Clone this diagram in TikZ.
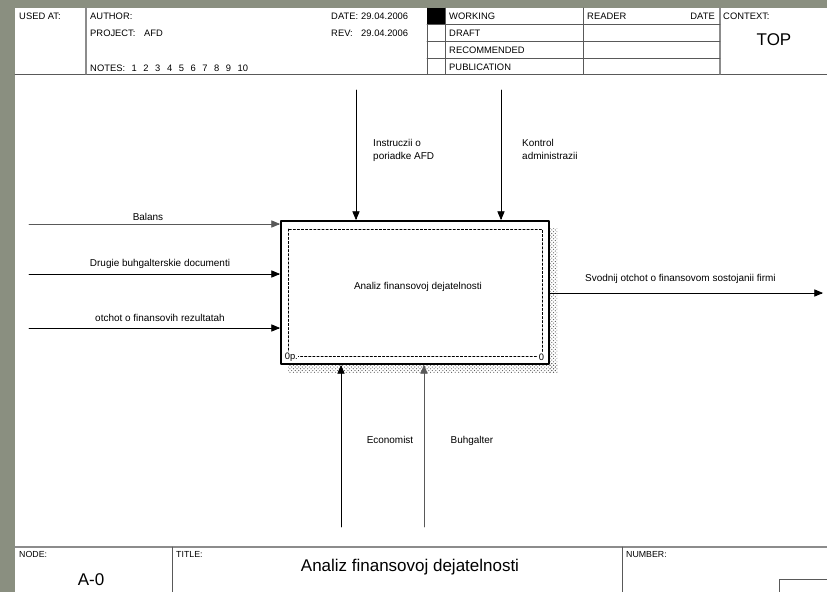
\documentclass[tikz,border=0pt]{standalone}
\usepackage{fontspec}
\setmainfont{Liberation Sans}
\usepackage{tikz}
\usetikzlibrary{calc}
\usetikzlibrary{arrows}
\usetikzlibrary{patterns}
\definecolor{ttttzz}{rgb}{0.54,0.56,0.5}
\definecolor{sqsqsq}{rgb}{0.55,0.55,0.55}
\definecolor{wvwvwv}{rgb}{0.35,0.35,0.35}
\tikzstyle{every node}=[font=\fontsize{8.5}{11}\selectfont,inner sep=0pt]
\tikzstyle{frm}=[font=\fontsize{8}{9}\selectfont,anchor=base west]
\tikzstyle{frmsm}=[font=\fontsize{7.5}{9}\selectfont,anchor=base west]
\tikzstyle{big}=[font=\fontsize{14.5}{16}\selectfont,anchor=base]
\tikzstyle{flow}=[->,line width=0.7pt]

\begin{document}
\begin{tikzpicture}[line cap=round,line join=round,>=triangle 45,x=0.03cm,y=-0.03cm]
            \useasboundingbox (0,0) rectangle (827,592);
            \fill[ttttzz] (0,0) rectangle (827,592);
            \fill[white] (15,8) rectangle (827,592);
            \draw[line width=0.6pt,color=wvwvwv] (15,74) -- (827,74);
            \draw[line width=1pt,color=sqsqsq] (86,8) -- (86,74);
            \foreach \xx in {427,445,583} \draw[line width=0.6pt,color=wvwvwv] (\xx,8) -- (\xx,74);
            \draw[line width=1pt,color=sqsqsq] (720,8) -- (720,74);
            \foreach \yy in {24,41,58} \draw[line width=0.6pt,color=wvwvwv] (427,\yy) -- (720,\yy);
            \fill[black] (427,8) rectangle (445,24);
            \node[frm] (usedat) at (19,20) {USED AT:};
            \node[frm] (author) at (90,20) {AUTHOR:};
            \node[frm] (project) at (90,36.8) {\makebox[1.62cm][l]{PROJECT:}AFD};
            \node[frm] (notes) at (90,72) {\spaceskip=5.6pt NOTES: 1 2 3 4 5 6 7 8 9 10};
            \node[frm] (date) at (331,20) {\makebox[0.9cm][l]{DATE:}29.04.2006};
            \node[frm] (rev) at (331,36.8) {\makebox[0.9cm][l]{REV:}29.04.2006};
            \node[frm] (working) at (449,20) {WORKING};
            \node[frm] (draft) at (449,36.8) {DRAFT};
            \node[frm] (recommended) at (449,53.5) {RECOMMENDED};
            \node[frm] (publication) at (449,70.5) {PUBLICATION};
            \node[frm] (reader) at (587,20) {READER};
            \node[frm,anchor=base east] (readerdate) at (715,20) {DATE};
            \node[frm] (context) at (723,20) {CONTEXT:};
            \node[big] (top) at (774,46) {TOP};
            \fill[pattern=crosshatch dots,pattern color=wvwvwv] (549,229) rectangle (557,372);
            \fill[pattern=crosshatch dots,pattern color=wvwvwv] (288,364) rectangle (557,372);
            \node[draw,line width=1.6pt,fill=white,minimum width=8.04cm,minimum height=4.29cm] (fn) at (415,292.5) {};
            \draw[line width=0.5pt,dash pattern=on 2pt off 1.5pt] (288,229) rectangle (542,356);
            \node (fnname) at (418,287) {Analiz finansovoj dejatelnosti};
            \node[fill=white,font=\fontsize{8}{9}\selectfont,anchor=west,inner sep=0.5pt] (cost) at (284,357) {0р.};
            \node[fill=white,font=\fontsize{8}{9}\selectfont,anchor=east,inner sep=0.5pt] (boxnum) at (545,357) {0};
            \coordinate (in1) at (29,224);
            \coordinate (in2) at (29,274);
            \coordinate (in3) at (29,328);
            \coordinate (ct1) at (356,90);
            \coordinate (ct2) at (501,90);
            \coordinate (me1) at (341,527);
            \coordinate (me2) at (424,527);
            \coordinate (out1) at (823,293);
            \draw[flow,color=wvwvwv] (in1) -- (in1 -| fn.west);
            \draw[flow] (in2) -- (in2 -| fn.west);
            \draw[flow] (in3) -- (in3 -| fn.west);
            \draw[flow] (ct1) -- (ct1 |- fn.north);
            \draw[flow] (ct2) -- (ct2 |- fn.north);
            \draw[flow] (me1) -- (me1 |- fn.south);
            \draw[flow,color=wvwvwv] (me2) -- (me2 |- fn.south);
            \draw[flow] (out1 -| fn.east) -- (out1);
            \node[anchor=base] (balans) at (148,220.5) {Balans};
            \node[anchor=base] (drugie) at (160,266.5) {Drugie buhgalterskie documenti};
            \node[anchor=base] (otchot) at (160,321.5) {otchot o finansovih rezultatah};
            \node[anchor=north west,align=left] (instrukcii) at (373,139) {Instruczii o\\poriadke AFD};
            \node[anchor=north west,align=left] (kontrol) at (522,139) {Kontrol\\administrazii};
            \node[anchor=base] (economist) at (390,443.5) {Economist};
            \node[anchor=base] (buhgalter) at (472,443.5) {Buhgalter};
            \node[anchor=base west] (svodnij) at (585,281.5) {Svodnij otchot o finansovom sostojanii firmi};
            \draw[line width=1.4pt,color=sqsqsq] (15,547) -- (827,547);
            \draw[line width=0.6pt,color=wvwvwv] (172,547) -- (172,592);
            \draw[line width=0.6pt,color=wvwvwv] (622,547) -- (622,592);
            \draw[line width=0.6pt,color=wvwvwv] (827,579) -- (779,579) -- (779,592);
            \node[frmsm] (nodelabel) at (19,557) {NODE:};
            \node[frmsm] (titlelabel) at (176,557) {TITLE:};
            \node[frmsm] (numberlabel) at (626,557) {NUMBER:};
            \node[big] (nodenum) at (91,585) {A-0};
            \node[big] (title) at (410,571) {Analiz finansovoj dejatelnosti};
\end{tikzpicture}
\end{document}
